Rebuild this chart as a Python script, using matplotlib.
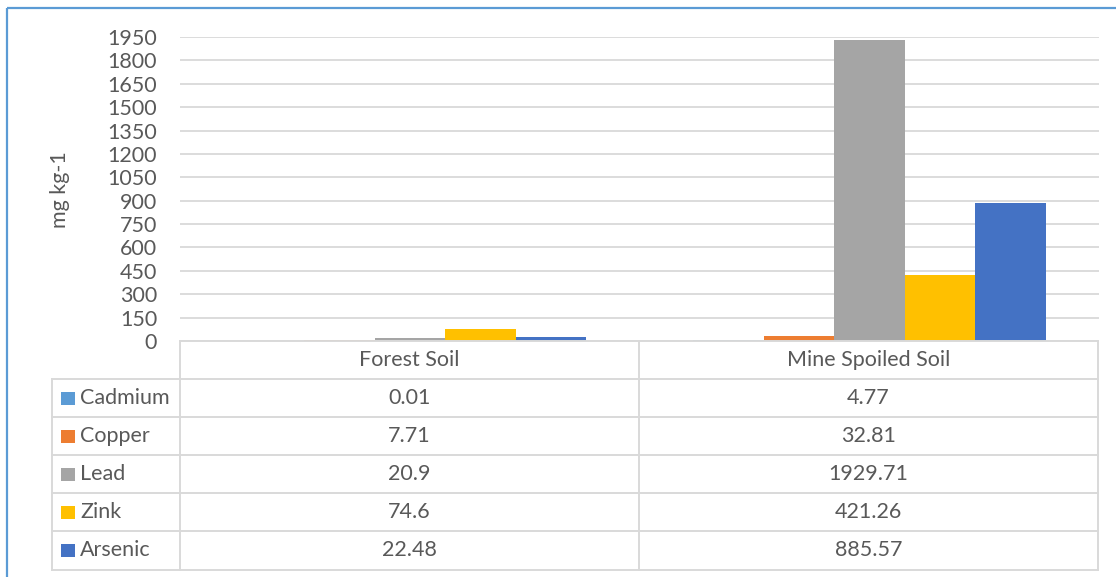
import matplotlib
matplotlib.use("Agg")
import matplotlib.pyplot as plt
import numpy as np

# Soil heavy-metal concentrations (mg kg-1)
soils = ["Forest Soil", "Mine Spoiled Soil"]
metals = ["Cadmium", "Copper", "Lead", "Zink", "Arsenic"]
cadmium = [0.01, 4.77]
copper = [7.71, 32.81]
lead = [20.9, 1929.71]
zink = [74.6, 421.26]
arsenic = [22.48, 885.57]
value_labels = [["0.01", "4.77"], ["7.71", "32.81"], ["20.9", "1929.71"],
                ["74.6", "421.26"], ["22.48", "885.57"]]
yticks = list(range(0, 1951, 150))

series = [cadmium, copper, lead, zink, arsenic]
colors = ["#5B9BD5", "#ED7D31", "#A5A5A5", "#FFC000", "#4472C4"]

TEXT = "#595959"
GRID = "#D9D9D9"
FONT = "Lato"
FS = 15.5

W, H = 1116, 577
fig = plt.figure(figsize=(W / 100, H / 100), dpi=100)

# pixel-based layout helpers
def fx(px):
    return px / W

def fy(py):
    return 1 - py / H

x_left, x_right = 180, 1099
y_top, y_zero = 37, 341

ax = fig.add_axes([fx(x_left), fy(y_zero), fx(x_right) - fx(x_left), fy(y_top) - fy(y_zero)])
ax.set_xlim(-0.5, 1.5)
ax.set_ylim(0, 1950)
ax.set_yticks(yticks)
ax.set_yticklabels([str(t) for t in yticks], fontsize=FS, color=TEXT, fontfamily=FONT)
ax.tick_params(axis="y", length=0, pad=16.5)
ax.set_xticks([])
for s in ax.spines.values():
    s.set_visible(False)
ax.grid(axis="y", color=GRID, linewidth=1.3)
ax.set_axisbelow(True)

bw = 70.5 / 459.5
x = np.arange(len(soils))
for i, (vals, c) in enumerate(zip(series, colors)):
    ax.bar(x + (i - 2) * bw, vals, width=bw, color=c, zorder=3, linewidth=0)

fig.text(fx(60), fy(190), "mg kg-1", rotation=90, ha="center", va="center",
         fontsize=FS, color=TEXT, fontfamily=FONT)

# overlay in pixel coordinates for the data table and frame
ov = fig.add_axes([0, 0, 1, 1], zorder=5)
ov.set_xlim(0, W)
ov.set_ylim(H, 0)
ov.axis("off")
ov.patch.set_alpha(0)

# chart frame
ov.plot([7, 7], [8, H + 2], color="#5B9BD5", linewidth=1.6, solid_capstyle="butt")
ov.plot([7, W + 2], [8, 8], color="#5B9BD5", linewidth=1.6, solid_capstyle="butt")

tab_left, col1, col2, tab_right = 52, 180, 639, 1098
row_y = [341, 379, 417, 455, 493, 531, 569.5]
lw = 1.4
# header row lines
ov.plot([col1, tab_right], [row_y[0], row_y[0]], color=GRID, linewidth=lw)
for yy in row_y[1:]:
    ov.plot([tab_left, tab_right], [yy, yy], color=GRID, linewidth=lw)
ov.plot([tab_left, tab_left], [row_y[1], row_y[-1]], color=GRID, linewidth=lw)
for xx in (col1, col2, tab_right):
    ov.plot([xx, xx], [row_y[0], row_y[-1]], color=GRID, linewidth=lw)

col_centers = [(col1 + col2) / 2, (col2 + tab_right) / 2]
hy = (row_y[0] + row_y[1]) / 2
for cx, name in zip(col_centers, soils):
    ov.text(cx, hy, name, ha="center", va="center", fontsize=FS, color=TEXT, fontfamily=FONT)

for r, (name, c) in enumerate(zip(metals, colors)):
    cy = (row_y[r + 1] + row_y[r + 2]) / 2
    ov.add_patch(plt.Rectangle((61, cy - 6.5), 13.5, 13.5, color=c, linewidth=0))
    ov.text(80, cy, name, ha="left", va="center", fontsize=FS, color=TEXT, fontfamily=FONT)
    for cx, lab in zip(col_centers, value_labels[r]):
        ov.text(cx, cy, lab, ha="center", va="center", fontsize=FS, color=TEXT, fontfamily=FONT)

fig.savefig("out.png", dpi=100)
